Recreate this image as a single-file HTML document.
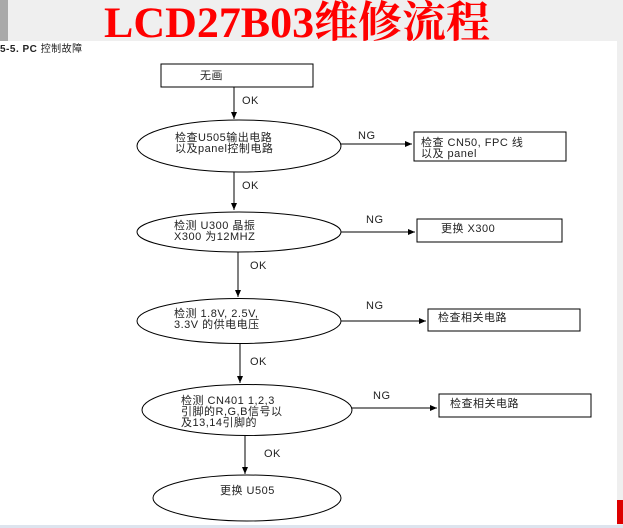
<!DOCTYPE html>
<html><head><meta charset="utf-8"><style>
html,body{margin:0;padding:0;background:#efefef;}
body{width:623px;height:528px;overflow:hidden;position:relative;}
svg{position:absolute;left:0;top:0;}
</style></head><body>
<svg width="623" height="528" viewBox="0 0 623 528" xmlns="http://www.w3.org/2000/svg">
<defs><marker id="a" markerWidth="8" markerHeight="8" refX="7" refY="3" orient="auto"><path d="M0,0 L7,3 L0,6 z" fill="#000"/></marker></defs>
<rect x="0" y="0" width="623" height="528" fill="#efefef"/>
<rect x="0" y="0" width="8" height="42" fill="#a9a9a9"/>
<rect x="0" y="41" width="617" height="484" fill="#fff"/>
<rect x="0" y="525" width="623" height="3" fill="#dde4ee"/>
<rect x="617" y="500" width="6" height="24" fill="#d00"/>
<text x="297" y="37" text-anchor="middle" textLength="386" lengthAdjust="spacingAndGlyphs" font-family="Liberation Serif, Noto Serif CJK SC, serif" font-weight="bold" font-size="43" fill="#f00">LCD27B03维修流程</text>
<g font-family="Liberation Sans, Noto Sans CJK SC, sans-serif" font-size="11" fill="#222" letter-spacing="0.5">
<text x="0" y="52" font-weight="bold" font-size="10">5-5. PC <tspan font-weight="normal">控制故障</tspan></text>
<g stroke="#000" stroke-width="1" fill="none">
<rect x="161" y="64" width="152" height="23"/>
<ellipse cx="239" cy="146" rx="102" ry="26"/>
<rect x="414" y="132" width="152" height="29"/>
<ellipse cx="239" cy="232" rx="102" ry="20"/>
<rect x="417" y="219" width="145" height="23"/>
<ellipse cx="239" cy="321" rx="102" ry="22.5"/>
<rect x="428" y="309" width="152" height="22"/>
<ellipse cx="247" cy="410" rx="105" ry="25.5"/>
<rect x="439" y="394" width="152" height="23"/>
<ellipse cx="247" cy="498" rx="94" ry="23"/>
<line x1="234" y1="87" x2="234" y2="119" marker-end="url(#a)"/>
<line x1="234" y1="172" x2="234" y2="210" marker-end="url(#a)"/>
<line x1="238" y1="252" x2="238" y2="297" marker-end="url(#a)"/>
<line x1="240" y1="344" x2="240" y2="383" marker-end="url(#a)"/>
<line x1="245" y1="436" x2="245" y2="474" marker-end="url(#a)"/>
<line x1="341" y1="144" x2="412" y2="144" marker-end="url(#a)"/>
<line x1="341" y1="232" x2="415" y2="232" marker-end="url(#a)"/>
<line x1="341" y1="321" x2="426" y2="321" marker-end="url(#a)"/>
<line x1="352" y1="408" x2="437" y2="408" marker-end="url(#a)"/>
</g>
<text x="200" y="79">无画</text>
<text x="242" y="104">OK</text>
<text x="175" y="141">检查U505输出电路</text>
<text x="175" y="152">以及panel控制电路</text>
<text x="358" y="139">NG</text>
<text x="421" y="146">检查  CN50, FPC  线</text>
<text x="421" y="157">以及  panel</text>
<text x="242" y="189">OK</text>
<text x="174" y="229">检测  U300  晶振</text>
<text x="174" y="240">X300  为12MHZ</text>
<text x="366" y="223">NG</text>
<text x="441" y="232">更换  X300</text>
<text x="250" y="269">OK</text>
<text x="174" y="317">检测  1.8V, 2.5V,</text>
<text x="174" y="328">3.3V  的供电电压</text>
<text x="366" y="309">NG</text>
<text x="438" y="321">检查相关电路</text>
<text x="250" y="365">OK</text>
<text x="181" y="404">检测  CN401 1,2,3</text>
<text x="181" y="415">引脚的R,G,B信号以</text>
<text x="181" y="426">及13,14引脚的</text>
<text x="373" y="399">NG</text>
<text x="450" y="407">检查相关电路</text>
<text x="264" y="457">OK</text>
<text x="220" y="494">更换  U505</text>
</g>
</svg>
</body></html>
